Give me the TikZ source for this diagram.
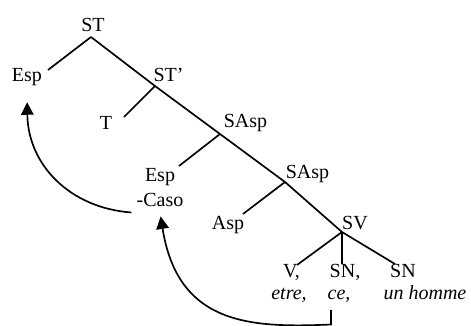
\documentclass[tikz,border=0pt]{standalone}
\usepackage{fontspec}
\setmainfont{Liberation Serif}
\usetikzlibrary{arrows.meta}

\begin{document}
\begin{tikzpicture}[
    x=0.6pt, y=-0.6pt,
    cat/.style={inner sep=3pt, anchor=base, font=\fontsize{12}{15}\selectfont},
    word/.style={cat, font=\fontsize{12}{15}\selectfont\itshape},
    branch/.style={line width=1pt},
    move/.style={line width=1pt, -{Triangle[length=7.5pt, width=7.5pt]}}
]
    \useasboundingbox (0,0) rectangle (471,326);

    % junctions and branch ends
    \coordinate (jST) at (91,37);
    \coordinate (jSTp) at (155,86);
    \coordinate (jSA1) at (220,134);
    \coordinate (jSA2) at (285,182);
    \coordinate (jSV) at (342,232);
    \coordinate (espEnd) at (48,70);
    \coordinate (tEnd) at (124,117);
    \coordinate (casoEnd) at (179,166);
    \coordinate (aspEnd) at (243,214);
    \coordinate (vEnd) at (297,265);
    \coordinate (snEnd) at (342,264);
    \coordinate (snbEnd) at (395,264);
    \coordinate (ceTick) at (331,310);
    \coordinate (ceFoot) at (331,324.5);

    % labels
    \node[cat] (st) at (93,31.7) {ST};
    \node[cat] (esp1) at (27,82) {Esp};
    \node[cat] (stp) at (168.5,82) {ST’};
    \node[cat] (t) at (106,130) {T};
    \node[cat] (sasp1) at (245.5,128) {SAsp};
    \node[cat, anchor=center, align=center] (esp2) at (160,188) {Esp\\-Caso};
    \node[cat] (sasp2) at (307.5,179) {SAsp};
    \node[cat] (asp) at (228,230) {Asp};
    \node[cat] (sv) at (355,230) {SV};
    \node[cat] (v) at (291.5,278) {V,};
    \node[cat] (sn1) at (345,278) {SN,};
    \node[cat] (sn2) at (403,278) {SN};
    \node[word] (etre) at (289,300) {etre,};
    \node[word] (ce) at (339,300) {ce,};
    \node[word] (homme) at (425,300) {un homme};

    % tree
    \draw[branch] (jST) -- (jSTp) -- (jSA1) -- (jSA2) -- (jSV) -- (snbEnd);
    \draw[branch] (jST) -- (espEnd);
    \draw[branch] (jSTp) -- (tEnd);
    \draw[branch] (jSA1) -- (casoEnd);
    \draw[branch] (jSA2) -- (aspEnd);
    \draw[branch] (jSV) -- (vEnd);
    \draw[branch] (jSV) -- (snEnd);

    % movements
    \draw[move, shorten >=6.4pt] (esp2.south west) .. controls (70,208) and (28,165) .. (esp1.south);
    \draw[move, shorten >=2.4pt] (ceTick) -- (ceFoot) .. controls (250,328) and (178,325) .. (esp2.south);
\end{tikzpicture}
\end{document}
